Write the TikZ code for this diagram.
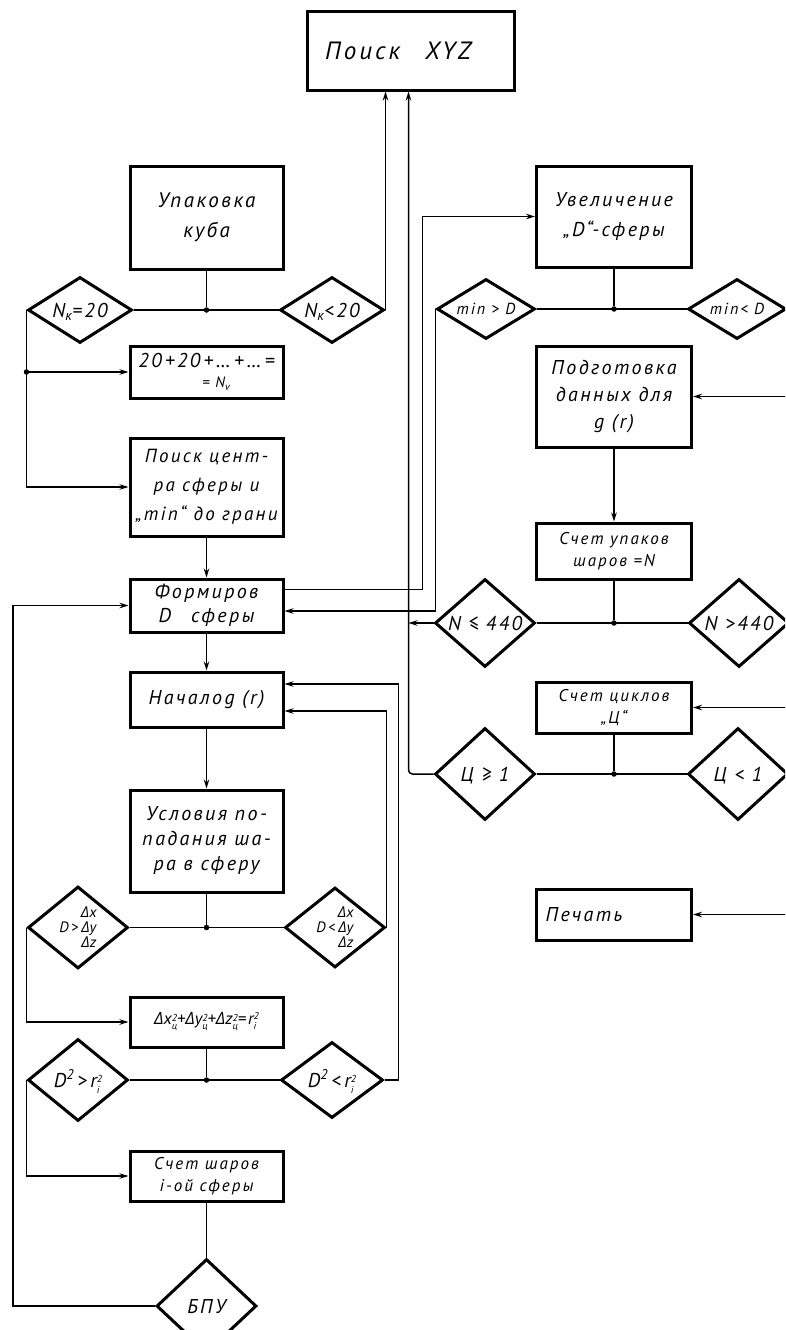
\documentclass[tikz,border=0pt]{standalone}
\usepackage{fontspec}
\setmainfont{PT Sans}[LetterSpace=12]
\newfontfamily\grk{Open Sans}
\usepackage{tikz}
\usetikzlibrary{positioning,arrows.meta,shapes.geometric}
\newcommand{\dtx}[1]{\smash{\makebox[0pt]{\raisebox{-.35em}{#1}}}}
\newcommand{\sqi}[2]{#1\raisebox{-0.3em}{\fontsize{10}{10}\selectfont\shortstack[l]{2\\#2}}}
\newcommand{\dl}{{\grk Δ}}

\begin{document}
\begin{tikzpicture}[x=1pt, y=-1pt, font=\itshape\fontsize{20}{28}\selectfont]
    \tikzstyle{box}=[draw, line width=3pt, minimum width=153pt, inner sep=3pt, align=center]
    \tikzstyle{cond}=[draw, diamond, line width=3pt, inner sep=0pt, minimum width=100pt]
    \tikzstyle{line}=[draw, line width=1.5pt]
    \tikzstyle{arrow}=[line, -{Stealth[length=9pt, width=5.5pt]}]
    \tikzstyle{dot}=[circle, fill, inner sep=0pt, minimum size=5.5pt]
    \tikzstyle{small}=[font=\itshape\fontsize{17}{22}\selectfont]

    \path[use as bounding box, clip] (0,0) rectangle (785,1330);

    % top
    \node[box, minimum width=207pt, minimum height=78pt,
          font=\itshape\fontsize{25}{30}\selectfont] (xyz) at (410.5,51) {Поиск\quad XYZ\hspace*{1em}};
    \coordinate (bus) at ([xshift=-2pt]xyz.south);

    % left column
    \node[box, minimum height=103pt, font=\itshape\fontsize{21}{30}\selectfont]
          (cube) at (206.5,217.5) {Упаковка\\куба};
    \node[box, minimum height=52pt, below=74pt of cube, align=left] (sum)
          {20\,+20\,+\,\ldots\,+\,\ldots\,=\\[-8pt]
           \hspace*{3.2em}{\fontsize{15}{15}\selectfont= N\textsubscript{v}}};
    \node[box, minimum height=98pt, below=37pt of sum, font=\itshape\fontsize{19}{29}\selectfont] (ctr)
          {Поиск цент-\\ра сферы и\\„min“ до грани};
    \node[box, minimum height=53pt, below=40pt of ctr, font=\itshape\fontsize{20}{24}\selectfont]
          (form) {Формиров\\D\quad сферы};
    \node[box, minimum height=55pt, below=37pt of form] (start) {Началоg (r)};
    \node[box, minimum height=102pt, below=60pt of start, font=\itshape\fontsize{20}{25}\selectfont]
          (cnd) {Условия по-\\падания ша-\\ра в сферу};
    \node[box, minimum height=50pt, below=102pt of cnd, inner sep=1pt,
          font=\itshape\fontsize{17}{18}\selectfont] (dist)
          {\dl\sqi{x}{ц}+\dl\sqi{y}{ц}+\dl\sqi{z}{ц}=\sqi{r}{i}};
    \node[box, small, minimum height=50pt, below=101pt of dist] (cnt) {Счет шаров\\i-ой сферы};
    \node[cond, minimum height=94pt, below=55pt of cnt] (bpu) {\dtx{БПУ}};

    \node[cond, minimum width=104pt, minimum height=66pt] (nk20) at (80,310)
          {\dtx{N\textsubscript{к}=20}};
    \node[cond, minimum width=104pt, minimum height=66pt] (nkl20) at (332,310)
          {\dtx{N\textsubscript{к}<20}};
    \node[cond, minimum height=82pt, font=\itshape\fontsize{15}{15}\selectfont] (dgt) at (78,927.5)
          {\dtx{D\,>\,\begin{tabular}{@{}c@{}}\dl x\\\dl y\\\dl z\end{tabular}}};
    \node[cond, minimum height=80pt, font=\itshape\fontsize{15}{15}\selectfont] (dlt) at (335,927.5)
          {\dtx{D\,<\,\begin{tabular}{@{}c@{}}\dl x\\\dl y\\\dl z\end{tabular}}};
    \node[cond, minimum height=82pt] (rgt) at (78,1080)
          {\dtx{D\textsuperscript{2}\,>\,\sqi{r}{i}}};
    \node[cond, minimum width=102pt, minimum height=76pt] (rlt) at (332,1080)
          {\dtx{D\textsuperscript{2}\,<\,\sqi{r}{i}}};

    % right column
    \node[box, minimum width=155pt, minimum height=101pt, font=\itshape\fontsize{20}{30}\selectfont]
          (incr) at (614,216.5) {Увеличение\\„D“-сферы};
    \node[box, minimum width=155pt, minimum height=101pt, below=76pt of incr, font=\itshape\fontsize{20}{27}\selectfont]
          (prep) {Подготовка\\данных для\\g (r)};
    \node[box, small, minimum width=155pt, minimum height=56pt, below=73pt of prep] (pack)
          {Счет упаков\\шаров =N};
    \node[box, small, minimum width=155pt, minimum height=51pt, below=100pt of pack] (cyc)
          {Счет циклов\\„Ц“};
    \node[box, minimum width=155pt, minimum height=51pt, below=153pt of cyc] (prn) {Печать\hspace*{3em}};

    \node[cond, minimum width=98pt, minimum height=60pt, font=\itshape\fontsize{16}{16}\selectfont]
          (mgt) at (486,309) {\dtx{min > D}};
    \node[cond, minimum width=98pt, minimum height=60pt, font=\itshape\fontsize{16}{16}\selectfont]
          (mlt) at (737,309) {\dtx{min< D}};
    \node[cond, minimum height=88pt] (nle) at (485,623) {\dtx{N ≤ 440}};
    \node[cond, minimum height=88pt] (ngt) at (739,623) {\dtx{N >440}};
    \node[cond, minimum height=92pt] (cge) at (485,774) {\dtx{Ц ≥ 1}};
    \node[cond, minimum height=92pt] (clt) at (738,774) {\dtx{Ц < 1}};

    % junctions
    \node[dot] (j1) at (cube |- nk20) {};
    \node[dot] (j2) at (nk20.west |- sum) {};
    \node[dot] (j3) at (incr |- mgt) {};
    \node[dot] (j4) at (pack |- nle) {};
    \node[dot] (j5) at (cyc |- cge) {};
    \node[dot] (j6) at (cnd |- dgt) {};
    \node[dot] (j7) at (dist |- rgt) {};

    % left connectors
    \draw[line] (cube) -- (j1);
    \draw[line] (nk20) -- (nkl20);
    \draw[arrow] (nkl20.east) -- (nkl20.east |- xyz.south);
    \draw[arrow] (nk20.west) |- (ctr);
    \draw[arrow] (j2) -- (sum);
    \draw[arrow] (ctr) -- (form);
    \draw[arrow] (form) -- (start);
    \draw[arrow] (start) -- (cnd);
    \draw[line] (cnd) -- (j6);
    \draw[line] (dgt) -- (dlt);
    \draw[arrow] (dgt.west) |- (dist);
    \draw[arrow] (dlt.east) |- ([yshift=-11.5pt]start.east);
    \draw[line] (dist) -- (j7);
    \draw[line] (rgt) -- (rlt);
    \draw[arrow] (rgt.west) |- (cnt);
    \draw[arrow] (rlt.east) -- ++(14,0) |- ([yshift=15.5pt]start.east);
    \draw[line] (cnt) -- (bpu);
    \draw[arrow] (bpu.west) -- ++(-142,0) |- (form);

    % middle and right connectors
    \draw[arrow] ([yshift=-12pt]form.north east) -- ++(138,0) |- (incr);
    \draw[arrow] (mgt.west) |- ([yshift=-5.5pt]form.east);
    \draw[arrow, rounded corners=4pt] (cge.west) -| (bus);
    \draw[arrow] (nle.west) -- (nle.west -| bus);
    \draw[line] (incr) -- (j3);
    \draw[line] (mgt) -- (mlt);
    \draw[arrow] (mlt.east) -- ++(20,0) |- (prep);
    \draw[arrow] (prep) -- (pack);
    \draw[line] (pack) -- (j4);
    \draw[line] (nle) -- (ngt);
    \draw[arrow] (ngt.east) -- ++(20,0) |- (cyc);
    \draw[line] (cyc) -- (j5);
    \draw[line] (cge) -- (clt);
    \draw[arrow] (clt.east) -- ++(20,0) |- (prn);
\end{tikzpicture}
\end{document}
